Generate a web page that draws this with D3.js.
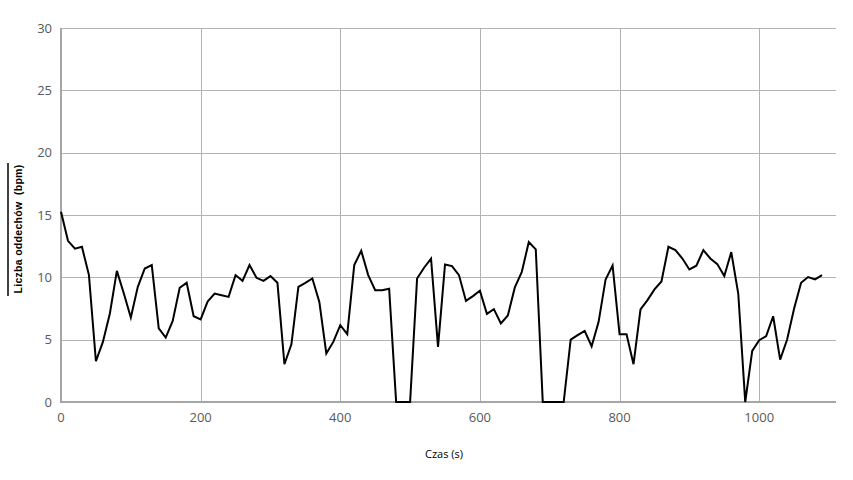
<!DOCTYPE html>
<html><head><meta charset="utf-8">
<script src="https://cdn.jsdelivr.net/npm/d3@7"></script>
<style>body{margin:0;background:#fff;}svg{display:block;}</style>
</head><body>
<svg id="chart" width="853" height="480"></svg>
<script>
const times = d3.range(0, 1100, 10);
const bpm = [
15.26, 12.93, 12.3, 12.45, 10.18, 3.27, 4.82, 7.1, 10.52, 8.7,
6.78, 9.24, 10.71, 10.98, 5.9, 5.17, 6.5, 9.16, 9.56, 6.88,
6.62, 8.05, 8.7, 8.57, 8.43, 10.18, 9.72, 10.98, 9.96, 9.72,
10.1, 9.56, 3.03, 4.63, 9.24, 9.56, 9.91, 8.03, 3.89, 4.82,
6.16, 5.44, 10.98, 12.13, 10.18, 8.97, 8.97, 9.08, 0, 0,
0, 9.9, 10.77, 11.49, 4.42, 11.03, 10.9, 10.18, 8.11, 8.49,
8.92, 7.07, 7.45, 6.3, 6.94, 9.19, 10.44, 12.83, 12.24, 0,
0, 0, 0, 5.01, 5.36, 5.7, 4.47, 6.43, 9.83, 10.95,
5.44, 5.44, 3.03, 7.42, 8.17, 9.03, 9.67, 12.45, 12.18, 11.51,
10.63, 10.93, 12.18, 11.51, 11.06, 10.1, 12.02, 8.7, 0, 4.1,
4.96, 5.28, 6.88, 3.4, 5.01, 7.5, 9.56, 10.02, 9.83, 10.18
];
const xTicks = [0, 200, 400, 600, 800, 1000];
const yTicks = [0, 5, 10, 15, 20, 25, 30];
const xTitle = "Czas (s)";
const yTitle = "Liczba oddechów  (bpm)";

const svg = d3.select("#chart");
const L = 61, R = 836, T = 28, B = 402;
const x = d3.scaleLinear().domain([0, 1110]).range([L, R]);
const y = d3.scaleLinear().domain([0, 30]).range([B, T]);
const gridColor = "#b3b3b3";
const font = "'Open Sans', 'Noto Sans', sans-serif";

// horizontal grid
svg.append("g").selectAll("line").data(yTicks.filter(d => d > 0)).join("line")
  .attr("x1", L).attr("x2", R)
  .attr("y1", d => Math.round(y(d)) + 0.5).attr("y2", d => Math.round(y(d)) + 0.5)
  .attr("stroke", gridColor).attr("stroke-width", 1);
// vertical grid
svg.append("g").selectAll("line").data(xTicks.filter(d => d > 0)).join("line")
  .attr("x1", d => Math.round(x(d)) + 0.5).attr("x2", d => Math.round(x(d)) + 0.5)
  .attr("y1", T).attr("y2", B)
  .attr("stroke", gridColor).attr("stroke-width", 1);

// axes lines
svg.append("line").attr("x1", L).attr("x2", L).attr("y1", T).attr("y2", B + 1)
  .attr("stroke", "#a6a6a6").attr("stroke-width", 2);
svg.append("line").attr("x1", L).attr("x2", R).attr("y1", B).attr("y2", B)
  .attr("stroke", "#a6a6a6").attr("stroke-width", 2);

// tick labels
svg.append("g").selectAll("text").data(yTicks).join("text")
  .attr("x", L - 9).attr("y", d => y(d)).attr("dy", "0.35em")
  .attr("text-anchor", "end").attr("font-family", font).attr("font-size", 13)
  .attr("fill", "#595959").text(d => d);
svg.append("g").selectAll("text").data(xTicks).join("text")
  .attr("x", d => x(d)).attr("y", B + 20)
  .attr("text-anchor", "middle").attr("font-family", font).attr("font-size", 13)
  .attr("fill", "#595959").text(d => d);

// line
const line = d3.line().x((d, i) => x(times[i])).y(d => y(d));
svg.append("path").datum(bpm).attr("d", line)
  .attr("fill", "none").attr("stroke", "#000").attr("stroke-width", 2)
  .attr("stroke-linejoin", "miter");

// axis titles
svg.append("text").attr("x", 444).attr("y", 458).attr("text-anchor", "middle")
  .attr("font-family", font).attr("font-size", 11).attr("fill", "#000").text(xTitle);
svg.append("text").attr("transform", "translate(22,229) rotate(-90)")
  .attr("text-anchor", "middle").attr("font-family", "'Liberation Sans', Arial, sans-serif")
  .attr("font-size", 10.5).attr("letter-spacing", 0.3).attr("font-weight", "bold")
  .attr("fill", "#000").attr("xml:space", "preserve").style("white-space", "pre").text(yTitle);
svg.append("line").attr("x1", 8).attr("x2", 8).attr("y1", 163).attr("y2", 296)
  .attr("stroke", "#000").attr("stroke-width", 1.5);
</script>
</body></html>
